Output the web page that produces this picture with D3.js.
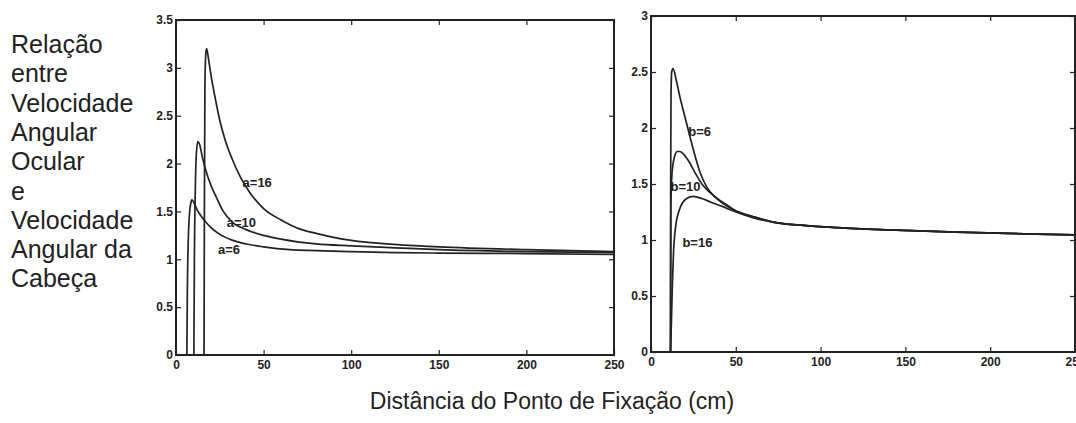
<!DOCTYPE html>
<html>
<head>
<meta charset="utf-8">
<script src="https://cdn.jsdelivr.net/npm/d3@7/dist/d3.min.js"></script>
<style>
  body { margin: 0; background: #fff; }
  svg { display: block; }
  .tick text { font-family: "Liberation Sans", Arial, sans-serif; font-size: 12px; font-weight: bold; fill: #222; }
  .domain { display: none; }
  .tick line { stroke: #222; stroke-width: 1.2; }
</style>
</head>
<body>
<div id="chart"></div>
<script>
// tick values
var xTicks = [0, 50, 100, 150, 200, 250];
var yTicksLeft = [0, 0.5, 1, 1.5, 2, 2.5, 3, 3.5];
var yTicksRight = [0, 0.5, 1, 1.5, 2, 2.5, 3];

// axis titles
var yTitle = ['Relação', 'entre', 'Velocidade', 'Angular', 'Ocular', 'e', 'Velocidade', 'Angular da', 'Cabeça'];
var xTitle = 'Distância do Ponto de Fixação (cm)';

// left panel : a = 6, 10, 16
var a6X  = [6.2, 6.5, 7, 7.6, 8.3, 9.1, 10.5, 12, 14, 17, 20, 25, 32, 40, 50, 65, 80, 100, 125, 150, 200, 250];
var a6Y  = [0, 0.7, 1.2, 1.45, 1.57, 1.62, 1.58, 1.52, 1.46, 1.39, 1.33, 1.26, 1.2, 1.16, 1.13, 1.1, 1.09, 1.08, 1.07, 1.065, 1.06, 1.05];
var a10X = [10.2, 10.5, 11, 11.6, 12.5, 13.5, 15, 17, 20, 23, 27, 32, 40, 50, 60, 80, 100, 125, 150, 200, 250];
var a10Y = [0, 1.0, 1.7, 2.1, 2.23, 2.2, 2.07, 1.93, 1.77, 1.65, 1.5, 1.39, 1.31, 1.25, 1.21, 1.16, 1.14, 1.12, 1.1, 1.08, 1.07];
var a16X = [16, 16.2, 16.5, 17, 17.5, 18.5, 20, 22, 25, 28, 32, 37, 42, 50, 60, 70, 80, 95, 120, 150, 200, 250];
var a16Y = [0, 1.5, 2.8, 3.15, 3.2, 3.1, 2.92, 2.72, 2.45, 2.25, 2.05, 1.85, 1.7, 1.53, 1.41, 1.32, 1.27, 1.21, 1.16, 1.13, 1.1, 1.08];

// right panel : b = 6, 10, 16
var b6X  = [11.5, 11.6, 11.8, 12.2, 13, 15, 17, 20, 23, 26, 29, 33, 38, 43, 50, 60, 72, 90, 110, 140, 180, 220, 250];
var b6Y  = [0, 1.5, 2.3, 2.5, 2.53, 2.42, 2.28, 2.1, 1.92, 1.75, 1.6, 1.47, 1.38, 1.32, 1.26, 1.21, 1.16, 1.13, 1.11, 1.09, 1.07, 1.055, 1.045];
var b10X = [11.5, 11.7, 12.2, 13, 14, 15.5, 17, 19, 22, 26, 30, 35, 40, 45, 50, 60, 72, 90, 110, 140, 180, 220, 250];
var b10Y = [0, 1.3, 1.55, 1.68, 1.75, 1.79, 1.79, 1.77, 1.71, 1.6, 1.5, 1.42, 1.36, 1.31, 1.26, 1.21, 1.16, 1.13, 1.11, 1.09, 1.07, 1.055, 1.045];
var b16X = [11.5, 12, 12.6, 13.3, 14, 15, 16.5, 18.5, 21, 25, 30, 35, 42, 50, 60, 72, 90, 110, 140, 180, 220, 250];
var b16Y = [0, 0.25, 0.6, 0.9, 1.05, 1.17, 1.26, 1.33, 1.37, 1.39, 1.37, 1.34, 1.3, 1.25, 1.2, 1.16, 1.13, 1.11, 1.09, 1.07, 1.055, 1.045];

var W = 1076, H = 423;
var svg = d3.select('#chart').append('svg')
  .attr('width', W).attr('height', H)
  .style('background', '#fff');

function zip(xs, ys) {
  return xs.map(function(x, i) { return [x, ys[i]]; });
}

// one matlab-like box with inward ticks on all four sides
function panel(box, yMax, yTicks, curves, labels) {
  var x = d3.scaleLinear().domain([0, 250]).range([box.left, box.right]);
  var y = d3.scaleLinear().domain([0, yMax]).range([box.bottom, box.top]);
  var g = svg.append('g');

  g.append('g').attr('transform', 'translate(0,' + box.bottom + ')')
    .call(d3.axisBottom(x).tickValues(xTicks).tickSize(-5).tickPadding(5).tickFormat(d3.format('d')));
  g.append('g').attr('transform', 'translate(0,' + box.top + ')')
    .call(d3.axisTop(x).tickValues(xTicks).tickSize(-5).tickFormat(''));
  g.append('g').attr('transform', 'translate(' + box.left + ',0)')
    .call(d3.axisLeft(y).tickValues(yTicks).tickSize(-5).tickPadding(3).tickFormat(function(d) { return String(d); }));
  g.append('g').attr('transform', 'translate(' + box.right + ',0)')
    .call(d3.axisRight(y).tickValues(yTicks).tickSize(-5).tickFormat(''));

  g.append('rect')
    .attr('x', box.left).attr('y', box.top)
    .attr('width', box.right - box.left).attr('height', box.bottom - box.top)
    .attr('fill', 'none').attr('stroke', '#222').attr('stroke-width', 2);

  var line = d3.line()
    .x(function(d) { return x(d[0]); })
    .y(function(d) { return y(d[1]); })
    .curve(d3.curveMonotoneX);

  g.selectAll('path.curve').data(curves).enter().append('path')
    .attr('class', 'curve')
    .attr('d', line)
    .attr('fill', 'none').attr('stroke', '#222').attr('stroke-width', 1.7);

  g.selectAll('text.lab').data(labels).enter().append('text')
    .attr('class', 'lab')
    .attr('x', function(d) { return x(d.x); })
    .attr('y', function(d) { return y(d.y); })
    .attr('dy', '0.35em')
    .attr('font-family', '"Liberation Sans", Arial, sans-serif')
    .attr('font-size', 13).attr('font-weight', 'bold').attr('fill', '#222')
    .text(function(d) { return d.t; });
}

panel({ left: 176, right: 614, top: 20, bottom: 355 }, 3.5, yTicksLeft,
  [zip(a6X, a6Y), zip(a10X, a10Y), zip(a16X, a16Y)],
  [{ t: 'a=16', x: 38, y: 1.8 }, { t: 'a=10', x: 29, y: 1.39 }, { t: 'a=6', x: 24, y: 1.1 }]);

panel({ left: 651, right: 1075, top: 16, bottom: 352 }, 3, yTicksRight,
  [zip(b6X, b6Y), zip(b10X, b10Y), zip(b16X, b16Y)],
  [{ t: 'b=6', x: 22, y: 1.97 }, { t: 'b=10', x: 11.5, y: 1.48 }, { t: 'b=16', x: 18.5, y: 0.98 }]);

// axis titles
var tt = svg.append('text')
  .attr('font-family', '"Liberation Sans", Arial, sans-serif')
  .attr('font-size', 25).attr('fill', '#222');
tt.selectAll('tspan').data(yTitle).enter().append('tspan')
  .attr('x', 11)
  .attr('y', function(d, i) { return 53 + i * 29.3; })
  .text(function(d) { return d; });

svg.append('text')
  .attr('x', 552).attr('y', 409)
  .attr('text-anchor', 'middle')
  .attr('font-family', '"Liberation Sans", Arial, sans-serif')
  .attr('font-size', 23).attr('fill', '#222')
  .text(xTitle);
</script>
</body>
</html>
